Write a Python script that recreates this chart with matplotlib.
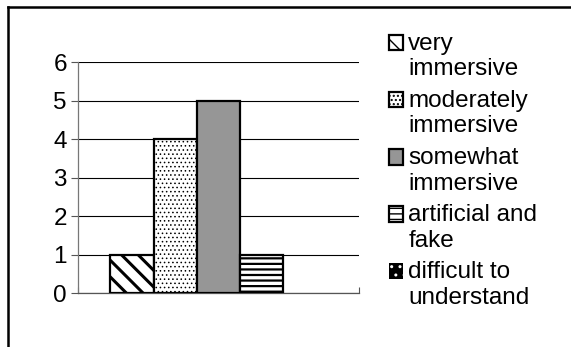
import matplotlib.pyplot as plt
from matplotlib.lines import Line2D
from matplotlib.patches import Rectangle
from matplotlib.legend_handler import HandlerPatch

plt.rcParams['font.family'] = ['Liberation Sans', 'DejaVu Sans']

# one category, five response series
labels = ["very\nimmersive", "moderately\nimmersive", "somewhat\nimmersive",
          "artificial and\nfake", "difficult to\nunderstand"]
counts = [1, 4, 5, 1, 0]
faces = ["white", "white", "#969696", "white", "black"]
hatches = ["\\\\", "....", "", "---", ".."]
hatch_lw = [2.2, 0.6, 1.0, 1.6, 1.0]
y_ticks = [0, 1, 2, 3, 4, 5, 6]

FS = 17.5
LIFT_PT = 10.1  # lifts each legend key up to the first text line


def top_key(legend, orig_handle, xdescent, ydescent, width, height, fontsize):
    return Rectangle((-xdescent, -ydescent + LIFT_PT), width, height)


fig = plt.figure(figsize=(5.71, 3.47), dpi=100)
ax = fig.add_axes([0.1366, 0.1556, 0.4921, 0.6657])

bars = []
for i, (v, fc, h, lab) in enumerate(zip(counts, faces, hatches, labels)):
    plt.rcParams['hatch.linewidth'] = hatch_lw[i]
    if i == 4:
        b = ax.bar(i, v, width=1.0, color=fc, edgecolor="white", hatch=h,
                   linewidth=0, label=lab)
    else:
        b = ax.bar(i, v, width=1.0, color=fc, edgecolor="black", hatch=h,
                   linewidth=1.6, label=lab, zorder=3)
    bars.append(b)

ax.set_xlim(-1.25, 5.25)
ax.set_ylim(0, 6)
ax.set_yticks(y_ticks)
ax.yaxis.grid(True, color="black", linewidth=0.8)
ax.set_axisbelow(True)
ax.tick_params(axis="y", labelsize=FS, length=5, width=0.8, pad=3,
               color="#555555")
ax.set_xticks([-1.25, 5.25])
ax.set_xticklabels(["", ""])
ax.tick_params(axis="x", direction="in", length=4, width=0.8, color="#555555")

for s in ["top", "right"]:
    ax.spines[s].set_visible(False)
ax.spines["left"].set_color("#777777")
ax.spines["left"].set_linewidth(0.9)
ax.spines["bottom"].set_color("#555555")
ax.spines["bottom"].set_linewidth(0.9)

hmap = {b[0]: HandlerPatch(patch_func=top_key) for b in bars}
leg = fig.legend([b[0] for b in bars], labels, handler_map=hmap,
                 loc="upper left", bbox_to_anchor=(0.681, 0.905),
                 frameon=False, fontsize=FS, handlelength=0.6,
                 handleheight=0.6, handletextpad=0.2, labelspacing=0.4,
                 borderaxespad=0, borderpad=0)
for t in leg.get_texts():
    t.set_linespacing(1.2)

# chart border (only top and left visible in the crop)
fig.add_artist(Line2D([8 / 571, 1.0], [1 - 7 / 347, 1 - 7 / 347],
                      color="black", linewidth=1.8))
fig.add_artist(Line2D([8 / 571, 8 / 571], [0.0, 1 - 7 / 347],
                      color="black", linewidth=1.8))

fig.savefig("out.png", dpi=100)
